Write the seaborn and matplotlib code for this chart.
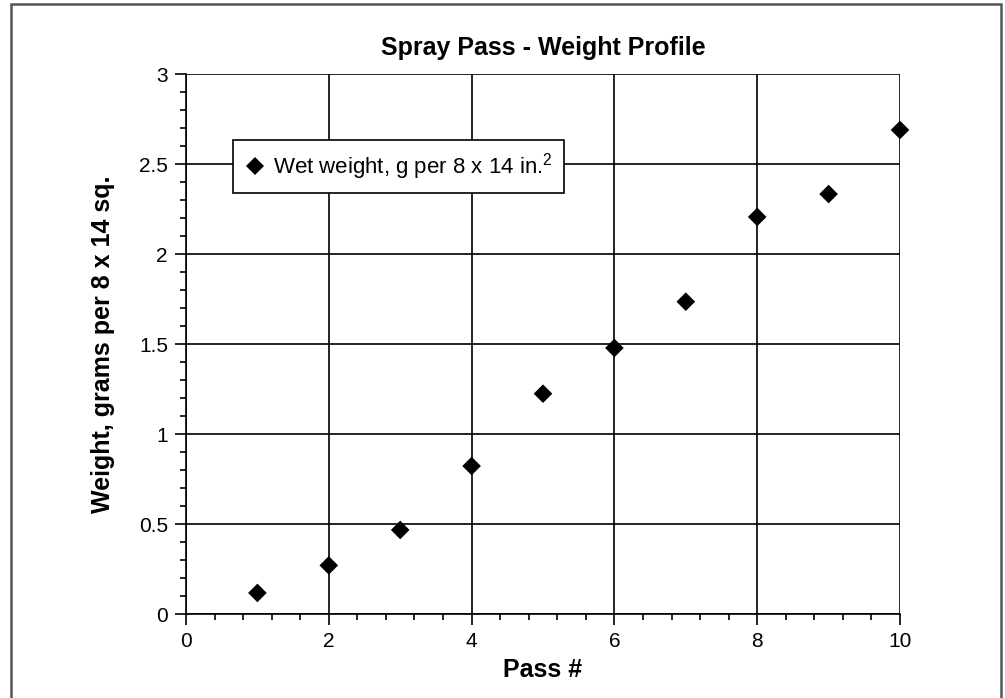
import matplotlib
matplotlib.use("Agg")
import matplotlib.pyplot as plt
import seaborn as sns
import pandas as pd
from matplotlib.ticker import MultipleLocator
from matplotlib.patches import Rectangle

passes = [1, 2, 3, 4, 5, 6, 7, 8, 9, 10]
wet_weight = [0.117, 0.27, 0.467, 0.822, 1.224, 1.478, 1.735, 2.206, 2.333, 2.689]
series_label = "Wet weight, g per 8 x 14 in.$^2$"
x_ticks = [0, 2, 4, 6, 8, 10]
y_ticks = [0, 0.5, 1, 1.5, 2, 2.5, 3]
y_tick_labels = ["0", "0.5", "1", "1.5", "2", "2.5", "3"]

sns.set_style("white")
plt.rcParams['font.family'] = ['Liberation Sans', 'DejaVu Sans']
plt.rcParams['mathtext.fontset'] = 'custom'
plt.rcParams['mathtext.rm'] = 'Liberation Sans'
plt.rcParams['text.color'] = 'black'
plt.rcParams['axes.labelcolor'] = 'black'
plt.rcParams['xtick.color'] = 'black'
plt.rcParams['ytick.color'] = 'black'

df = pd.DataFrame({"Pass": passes, "Weight": wet_weight, "Series": series_label})

fig = plt.figure(figsize=(10.05, 6.98), dpi=100)
ax = fig.add_axes([186/1005, 1-614/698, 714/1005, 540/698])

sns.scatterplot(data=df, x="Pass", y="Weight", hue="Series", palette=["black"],
                marker="D", s=90, edgecolor="black", linewidth=0, ax=ax, zorder=5,
                clip_on=False)

ax.set_xlim(0, 10)
ax.set_ylim(0, 3)
ax.set_xticks(x_ticks)
ax.set_xticklabels([str(t) for t in x_ticks])
ax.set_yticks(y_ticks)
ax.set_yticklabels(y_tick_labels)
ax.xaxis.set_minor_locator(MultipleLocator(0.4))
ax.yaxis.set_minor_locator(MultipleLocator(0.1))

ax.grid(True, which="major", color="black", linewidth=1.2)
ax.tick_params(axis="both", which="major", direction="out", length=8, width=1.2,
               color="black", labelcolor="black", labelsize=15, pad=5)
ax.tick_params(axis="both", which="minor", direction="out", length=4.3, width=1.2, color="black")
ax.tick_params(axis="x", which="both", bottom=True)
ax.tick_params(axis="y", which="both", left=True)
for side in ["top", "right"]:
    ax.spines[side].set_visible(False)
for side in ["left", "bottom"]:
    ax.spines[side].set_color("black")
    ax.spines[side].set_linewidth(1.2)

ax.set_title("Spray Pass - Weight Profile", fontsize=18, fontweight="bold", pad=14, color="black")
ax.set_xlabel("Pass #", fontsize=18, fontweight="bold", labelpad=5, color="black")
ax.set_ylabel("Weight, grams per 8 x 14 sq.", fontsize=18, fontweight="bold", labelpad=17, color="black")

leg = ax.legend(loc="upper left", bbox_to_anchor=((233-186)/714, (614-140)/540),
                borderaxespad=0, frameon=True, fancybox=False, fontsize=16,
                handletextpad=0.3, borderpad=0.5, handlelength=1.0, markerscale=1.0)
leg.get_frame().set_edgecolor("black")
leg.get_frame().set_linewidth(1.2)
leg.get_frame().set_alpha(1)
leg.set_zorder(10)
for t in leg.get_texts():
    t.set_color("black")

fig.patches.append(Rectangle((11/1005, -0.05), 990/1005, 1 - 4/698 + 0.05, transform=fig.transFigure,
                             fill=False, edgecolor="#555555", linewidth=1.8))

fig.savefig("out.png", dpi=100)
